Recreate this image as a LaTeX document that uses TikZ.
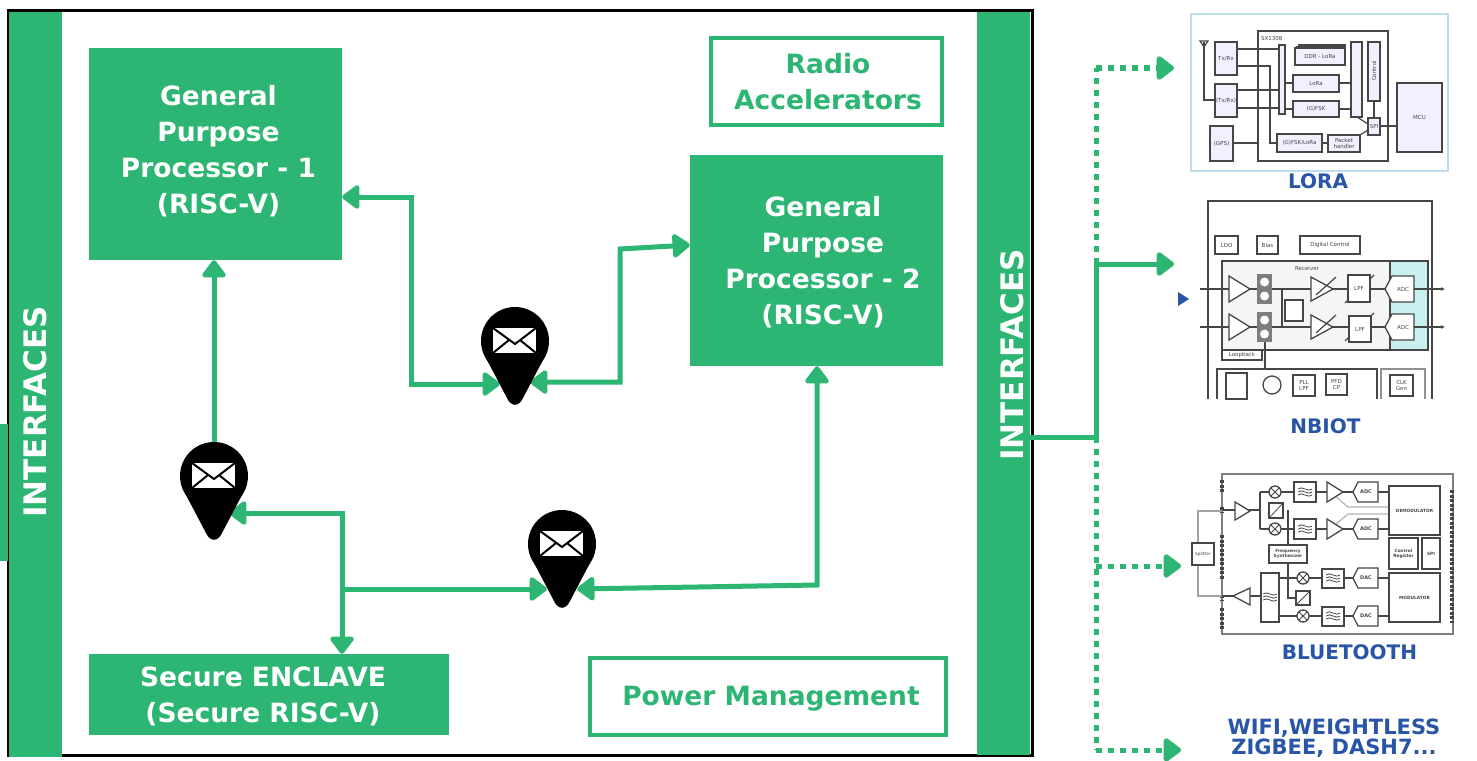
\documentclass[tikz,border=0pt]{standalone}
\usepackage{fontspec}
\setmainfont{DejaVu Sans}
\usetikzlibrary{arrows.meta}
\definecolor{soc}{RGB}{45,182,115}
\definecolor{radiotext}{RGB}{40,85,165}
\definecolor{thumb}{RGB}{70,70,70}
\definecolor{adcfill}{RGB}{200,240,240}
\definecolor{panelline}{RGB}{190,220,235}
\begin{document}
\begin{tikzpicture}
[x=1pt,y=-1pt,
 procbox/.style={fill=soc,inner sep=0pt},
 ghostbox/.style={draw=soc,line width=4pt,fill=white,inner sep=0pt},
 proctext/.style={text=white,font=\fontsize{26.5}{36}\selectfont\bfseries,align=center,inner sep=0pt},
 ghosttext/.style={text=soc,font=\fontsize{26.5}{36}\selectfont\bfseries,align=center,inner sep=0pt},
 sidetext/.style={text=white,font=\fontsize{31}{36}\selectfont\bfseries,rotate=90,inner sep=0pt},
 radiolabel/.style={text=radiotext,font=\fontsize{20}{21}\selectfont\bfseries,align=center,inner sep=0pt},
 pinnode/.style={minimum width=30pt,minimum height=86pt,inner sep=0pt},
 link/.style={draw=soc,line width=5pt,line join=miter},
 twoway/.style={link,{Triangle[length=19pt,width=27pt,round]}-{Triangle[length=19pt,width=27pt,round]}},
 oneway/.style={link,-{Triangle[length=19pt,width=27pt,round]}},
 dots/.style={draw=soc,line width=5pt,dash pattern=on 6pt off 6pt},
 dotway/.style={dots,-{Triangle[length=19pt,width=27pt,round,sep=0pt]}},
 thumbbox/.style={draw=thumb,line width=1.3pt,fill=white},
 thumbtext/.style={text=thumb,font=\fontsize{5.5}{6}\selectfont,align=center,inner sep=0pt},
 thumbline/.style={draw=thumb,line width=1.2pt},
 mailpin/.pic={
  \fill[black] (0,0) circle[radius=34pt];
  \fill[black] (-28,19) -- (28,19) -- (8,57) .. controls (4,66) and (-4,66) .. (-8,57) -- cycle;
  \fill[white] (-22,-13) rectangle (21,12);
  \draw[black,line width=2pt] (-22,-13) -- (0,3) -- (21,-13);
  \draw[black,line width=2pt] (-22,12) -- (-6,-1);
  \draw[black,line width=2pt] (21,12) -- (5,-1);
 }]
\useasboundingbox (0,0) rectangle (1477,760);
\clip (0,0) rectangle (1477,760);
\fill[white] (0,0) rectangle (1477,760);

% chip frame
\draw[black,line width=3pt] (8,11) rectangle (1032,755);
\fill[soc] (9,12) rectangle (62,757);
\fill[soc] (977,12) rectangle (1030,755);
\fill[soc] (0,424) rectangle (8,561);
\node[sidetext] (ifleft) at (35,412) {INTERFACES};
\node[sidetext] (ifright) at (1012,355) {INTERFACES};

% blocks
\node[procbox,minimum width=253pt,minimum height=212pt] (gppone) at (215.5,154) {};
\node[procbox,minimum width=253pt,minimum height=211pt] (gpptwo) at (816.5,260.5) {};
\node[procbox,minimum width=360pt,minimum height=81pt] (enclave) at (269,694.5) {};
\node[ghostbox,minimum width=231pt,minimum height=86pt] (radio) at (826.5,81.5) {};
\node[ghostbox,minimum width=356pt,minimum height=77pt] (power) at (767.5,696) {};
\node[proctext] (gpponetext) at (218.5,151.5) {General\\Purpose\\Processor - 1\\(RISC-V)};
\node[proctext] (gpptwotext) at (823,262.5) {General\\Purpose\\Processor - 2\\(RISC-V)};
\node[proctext] (enclavetext) at (263,696.5) {Secure ENCLAVE\\(Secure RISC-V)};
\node[ghosttext] (radiotxt) at (828,81.5) {Radio\\Accelerators};
\node[ghosttext] (powertext) at (771,699) {Power Management};

% message pins
\node[pinnode] (pinA) at (515,341) {};
\node[pinnode] (pinB) at (214,476) {};
\node[pinnode] (pinC) at (562,544) {};

% bends
\coordinate (bendA) at (411,197);
\coordinate (bendB) at (411,384);
\coordinate (bendC) at (620,382);
\coordinate (bendD) at (620,249);
\coordinate (busB) at (342,513);
\coordinate (busC) at (342,589);
\coordinate (bendE) at (817,585);
\coordinate (jointR) at (1096,437);
\coordinate (jointN) at (1096,264);
\coordinate (jointL) at (1096,68);
\coordinate (jointB) at (1096,566);
\coordinate (jointW) at (1096,750);
\coordinate (toLora) at (1174,68);
\coordinate (toNbiot) at (1174,264);
\coordinate (toBle) at (1181,566);
\coordinate (toWifi) at (1181,750);

% links
\draw[oneway] (pinB.center) -- (gppone.south -| pinB);
\draw[twoway] (gppone.east |- bendA) -- (bendA) -- (bendB) -- (pinA.west |- bendB);
\draw[twoway] (pinA.east |- bendC) -- (bendC) -- (bendD) -- (gpptwo.west |- 0,245);
\draw[twoway] (pinB.east |- busB) -- (busB) -- (enclave.north -| busB);
\draw[oneway] (busC) -- (pinC.west |- busC);
\draw[twoway] (pinC.east |- 0,589) -- (bendE) -- (gpptwo.south -| bendE);
\draw[link] (ifright.south |- jointR) -- (jointR) -- (jointN);
\draw[oneway] (jointN) -- (toNbiot);
\draw[dots] (jointN) -- (jointL);
\draw[dotway] (jointL) -- (toLora);
\draw[dots] (jointR) -- (jointW);
\draw[dotway] (jointB) -- (toBle);
\draw[dotway] (jointW) -- (toWifi);
\foreach \n in {pinA,pinB,pinC}
\pic at (\n) {mailpin};

% LORA thumbnail
\draw[panelline,line width=1.2pt,fill=white] (1191,14) rectangle (1448,171);
\draw[thumbline,line width=1.5pt] (1258,31) rectangle (1388,161);
\node[thumbtext,anchor=west] (loraname) at (1261,38) {SX1308};
\draw[thumbline] (1204,42) -- (1204,100) -- (1215,100);
\draw[thumbline] (1200,41) -- (1204,47) -- (1208,41) -- cycle;
\draw[thumbline] (1237,49) -- (1279,49);
\draw[thumbline] (1237,90) -- (1279,90);
\draw[thumbline] (1237,108) -- (1279,108);
\draw[thumbline] (1237,66) -- (1270,66) -- (1270,143) -- (1277,143);
\draw[thumbline] (1233,143) -- (1258,143);
\draw[thumbline] (1285,83) -- (1293,83);
\draw[thumbline] (1285,109) -- (1293,109);
\draw[thumbline] (1339,83) -- (1351,83);
\draw[thumbline] (1339,109) -- (1351,109);
\draw[thumbline] (1322,143) -- (1328,143);
\draw[thumbline] (1380,126) -- (1397,126);
\draw[thumbline] (1374,101) -- (1374,118);
\draw[thumbline] (1357,117) -- (1368,124);
\draw[thumbline] (1360,135) -- (1368,130);
\foreach \i/\x/\y in {1/1299/45,2/1297/47}
\draw[thumbbox,fill=blue!6] (\x,\y) rectangle (1345,60);
\foreach \i/\xa/\ya/\xb/\yb/\t in {
 1/1215/42/1237/75/{Tx/Rx},2/1215/84/1237/117/{(Tx/Rx)},3/1210/126/1233/161/{(GPS)},
 4/1279/45/1285/114/{},5/1295/48/1345/65/{DDR - LoRa},6/1293/75/1339/92/{LoRa},
 7/1293/101/1339/117/{(G)FSK},8/1351/42/1362/117/{},9/1368/42/1380/101/{},
 10/1368/118/1380/135/{SPI},11/1277/134/1322/152/{(G)FSK/LoRa},
 12/1328/135/1360/152/{Packet\\handler},13/1397/83/1442/152/{MCU}}
\draw[thumbbox,fill=blue!6] (\xa,\ya) rectangle (\xb,\yb) node[midway,thumbtext] (lora\i) {\t};
\node[thumbtext,rotate=90] (loractl) at (1374,71) {Control};
\node[radiolabel] (loralbl) at (1318,181) {LORA};

% NBIOT thumbnail
\draw[thumbline,line width=1.8pt] (1208,399) -- (1208,201) -- (1432,201) -- (1432,399);
\fill[black!4] (1222,261) rectangle (1390,350);
\draw[thumbline,fill=adcfill] (1390,261) rectangle (1428,350);
\draw[thumbline] (1222,261) rectangle (1390,350);
\node[thumbtext] (rxname) at (1307,268) {Receiver};
\foreach \y in {289,327} {
\draw[thumbline] (1200,\y) -- (1414,\y);
\draw[thumbline,-{Latex[length=4pt,width=4pt]}] (1414,\y) -- (1445,\y);
\draw[thumbbox] (1229,\y-13) -- (1250,\y) -- (1229,\y+13) -- cycle;
\fill[thumb!70] (1257,\y-15) rectangle (1272,\y+15);
\foreach \d in {-7,7}
\fill[white] (1264.5,\y+\d) circle[radius=4.5pt];
\draw[thumbbox] (1311,\y-12) -- (1333,\y) -- (1311,\y+12) -- cycle;
\draw[thumbline] (1316,\y+6) -- (1336,\y-12);
\draw[thumbline] (1345,\y+14) -- (1374,\y-14);
\draw[thumbbox] (1392,\y-13) -- (1414,\y-13) -- (1414,\y+13) -- (1392,\y+13) -- (1385,\y) -- cycle;
\node[thumbtext] (adc\y) at (1403,\y) {ADC};
}
\draw[thumbline] (1282,289) -- (1282,327);
\draw[thumbline] (1265,342) -- (1265,369);
\foreach \i/\xa/\ya/\xb/\yb/\t in {
 1/1215/236/1238/254/{LDO},2/1257/236/1278/254/{Bias},3/1300/236/1360/254/{Digital Control},
 4/1222/350/1262/360/{Loopback},5/1348/275/1370/302/{LPF},6/1349/316/1371/342/{LPF},
 7/1285/300/1303/321/{},8/1293/375/1315/396/{PLL\\LPF},9/1326/374/1347/395/{PFD\\CP},
 10/1390/375/1413/396/{CLK\\Gen},11/1226/373/1247/399/{}}
\draw[thumbbox] (\xa,\ya) rectangle (\xb,\yb) node[midway,thumbtext] (nb\i) {\t};
\draw[thumbline] (1217,399) -- (1217,369) -- (1377,369) -- (1377,399);
\draw[thumbline,draw=thumb!60] (1381,399) -- (1381,369) -- (1425,369) -- (1425,399);
\draw[thumbbox] (1272,385) circle[radius=9pt];
\node[radiolabel] (nbiotlbl) at (1325.5,426) {NBIOT};

% BLUETOOTH thumbnail
\draw[thumbline,line width=1.5pt,draw=thumb!70] (1222,474) rectangle (1453,634);
\foreach \ya/\yb in {480/492,507/512,535/580,595/600,608/630}
\draw[thumb,line width=4pt,dash pattern=on 3pt off 1.5pt] (1222,\ya) -- (1222,\yb);
\draw[thumb,line width=4pt,dash pattern=on 3pt off 1.5pt] (1452,490) -- (1452,623);
\draw[thumbline,draw=thumb!50] (1198,543) -- (1198,511) -- (1222,511);
\draw[thumbline,draw=thumb!50] (1198,565) -- (1198,596) -- (1222,596);
\draw[thumbline] (1222,510) -- (1260,510);
\draw[thumbline] (1260,492) -- (1389,492);
\draw[thumbline] (1260,529) -- (1389,529);
\draw[thumbline] (1260,492) -- (1260,529);
\draw[thumbline] (1279,578) -- (1389,578);
\draw[thumbline] (1279,616) -- (1389,616);
\draw[thumbline] (1222,596) -- (1261,596);
\draw[thumbline] (1288,510) -- (1288,545);
\draw[thumbline] (1288,563) -- (1288,598) -- (1296,598);
\draw[thumbline,draw=thumb!40] (1335,496) -- (1348,507) -- (1389,507);
\draw[thumbline,draw=thumb!40] (1335,525) -- (1348,514) -- (1389,514);
\foreach \i/\xa/\ya/\xb/\yb/\t in {
 1/1192/543/1214/565/{Splitter},2/1269/503/1283/518/{},3/1296/591/1310/605/{},
 4/1294/482/1316/502/{},5/1294/519/1316/539/{},6/1322/569/1344/588/{},7/1322/607/1344/626/{},
 8/1389/486/1440/535/{\bfseries DEMODULATOR},9/1389/538/1418/569/{\bfseries Control\\\bfseries Register},10/1422/538/1440/569/{\bfseries SPI},
 11/1389/573/1440/622/{\bfseries MODULATOR},12/1269/545/1307/563/{\bfseries Frequency\\\bfseries Synthesizer},13/1261/573/1279/622/{}}
\draw[thumbbox] (\xa,\ya) rectangle (\xb,\yb) node[midway,thumbtext,font=\fontsize{4.3}{5}\selectfont] (ble\i) {\t};
\foreach \x/\y in {1305/492,1305/529,1333/578,1333/616,1270/597}
\foreach \d in {-3,0,3}
\draw[thumbline,line width=.8pt] (\x-7,\y+\d) .. controls (\x-3,\y+\d-4) and (\x+3,\y+\d+4) .. (\x+7,\y+\d);
\draw[thumbline,line width=.8pt] (1269,518) -- (1283,503);
\draw[thumbline,line width=.8pt] (1296,605) -- (1310,591);
\foreach \i/\y/\t in {1/492/ADC,2/529/ADC,3/578/DAC,4/616/DAC} {
\draw[thumbbox] (1358,\y-10) -- (1378,\y-10) -- (1378,\y+10) -- (1358,\y+10) -- (1353,\y) -- cycle;
\node[thumbtext,font=\fontsize{5}{5}\selectfont\bfseries] (conv\i) at (1366,\y) {\t};
}
\foreach \y in {492,529}
\draw[thumbbox] (1327,\y-10) -- (1343,\y) -- (1327,\y+10) -- cycle;
\draw[thumbbox] (1235,502) -- (1250,511) -- (1235,520) -- cycle;
\draw[thumbbox] (1250,588) -- (1233,596) -- (1250,605) -- cycle;
\foreach \x/\y in {1275/492,1275/529,1303/578,1303/616} {
\draw[thumbbox] (\x,\y) circle[radius=6pt];
\draw[thumbline,line width=.8pt] (\x-4,\y-4) -- (\x+4,\y+4);
\draw[thumbline,line width=.8pt] (\x-4,\y+4) -- (\x+4,\y-4);
}
\node[radiolabel] (blelbl) at (1349.5,652) {BLUETOOTH};

% last label
\node[radiolabel,font=\fontsize{21}{20}\selectfont\bfseries] (wifilbl) at (1334,738) {WIFI,WEIGHTLESS\\ZIGBEE, DASH7...};
% marker
\fill[radiotext] (1178,292) -- (1189,299) -- (1178,306) -- cycle;
\end{tikzpicture}
\end{document}
